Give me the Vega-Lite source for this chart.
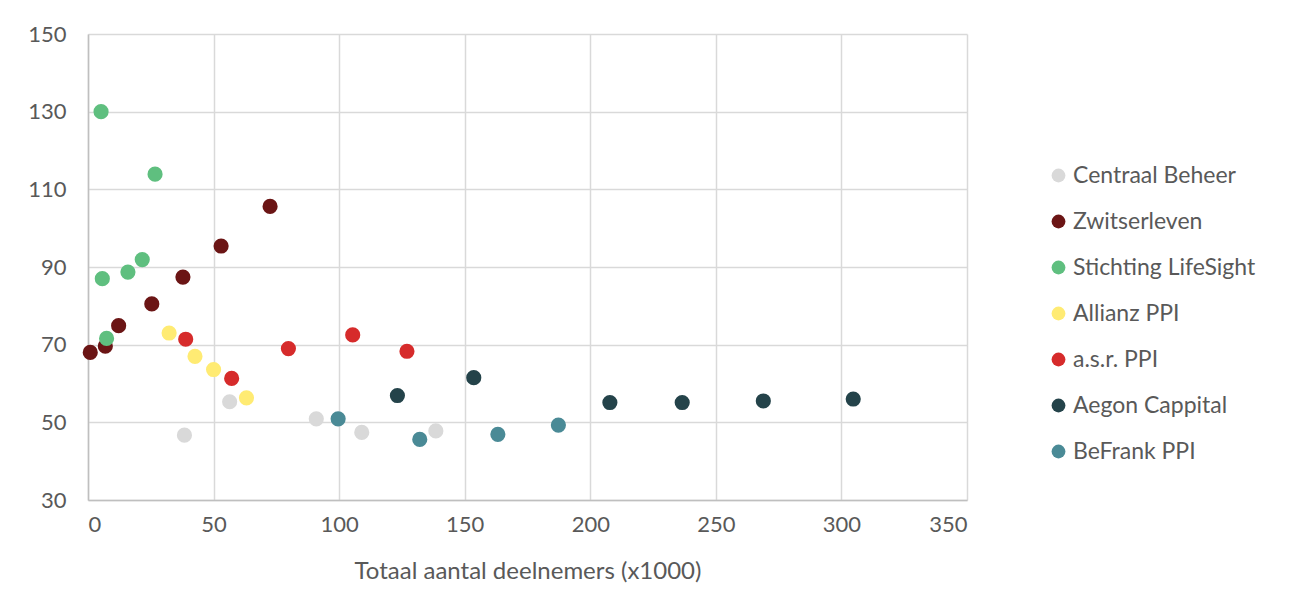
{
  "$schema": "https://vega.github.io/schema/vega-lite/v6.json",
  "width": 879,
  "height": 466,
  "autosize": {"type": "none"},
  "padding": {"left": 88, "top": 34, "right": 324, "bottom": 114},
  "background": "white",
  "config": {
    "font": "Lato",
    "view": {"stroke": null},
    "axis": {
      "labelFont": "Lato",
      "titleFont": "Lato",
      "labelColor": "#595959",
      "titleColor": "#595959",
      "labelFontSize": 22,
      "titleFontSize": 24,
      "titleFontWeight": "normal",
      "gridColor": "#D9D9D9",
      "gridWidth": 1.5,
      "domainColor": "#BFBFBF",
      "domainWidth": 1.5,
      "ticks": false
    },
    "legend": {
      "labelFont": "Lato",
      "labelColor": "#595959",
      "labelFontSize": 23,
      "labelLimit": 400
    }
  },
  "data": {
    "values": [
      {"series": "Centraal Beheer", "x": 38.4, "y": 46.7},
      {"series": "Centraal Beheer", "x": 56.4, "y": 55.3},
      {"series": "Centraal Beheer", "x": 90.9, "y": 50.9},
      {"series": "Centraal Beheer", "x": 109.0, "y": 47.4},
      {"series": "Centraal Beheer", "x": 138.5, "y": 47.8},
      {"series": "Zwitserleven", "x": 0.9, "y": 68.0},
      {"series": "Zwitserleven", "x": 6.9, "y": 69.6},
      {"series": "Zwitserleven", "x": 12.2, "y": 74.9},
      {"series": "Zwitserleven", "x": 25.4, "y": 80.5},
      {"series": "Zwitserleven", "x": 37.8, "y": 87.4},
      {"series": "Zwitserleven", "x": 53.0, "y": 95.4},
      {"series": "Zwitserleven", "x": 72.5, "y": 105.6},
      {"series": "Stichting LifeSight", "x": 5.2, "y": 130.0},
      {"series": "Stichting LifeSight", "x": 26.7, "y": 113.9},
      {"series": "Stichting LifeSight", "x": 21.6, "y": 91.9},
      {"series": "Stichting LifeSight", "x": 15.9, "y": 88.7},
      {"series": "Stichting LifeSight", "x": 5.7, "y": 87.0},
      {"series": "Stichting LifeSight", "x": 7.4, "y": 71.6},
      {"series": "Allianz PPI", "x": 32.3, "y": 73.0},
      {"series": "Allianz PPI", "x": 42.6, "y": 67.0},
      {"series": "Allianz PPI", "x": 50.0, "y": 63.6},
      {"series": "Allianz PPI", "x": 63.1, "y": 56.3},
      {"series": "a.s.r. PPI", "x": 38.9, "y": 71.4},
      {"series": "a.s.r. PPI", "x": 57.2, "y": 61.3},
      {"series": "a.s.r. PPI", "x": 79.8, "y": 69.0},
      {"series": "a.s.r. PPI", "x": 105.4, "y": 72.5},
      {"series": "a.s.r. PPI", "x": 127.0, "y": 68.3},
      {"series": "Aegon Cappital", "x": 123.2, "y": 56.9},
      {"series": "Aegon Cappital", "x": 153.6, "y": 61.5},
      {"series": "Aegon Cappital", "x": 207.8, "y": 55.1},
      {"series": "Aegon Cappital", "x": 236.6, "y": 55.1},
      {"series": "Aegon Cappital", "x": 268.9, "y": 55.5},
      {"series": "Aegon Cappital", "x": 304.7, "y": 56.0},
      {"series": "BeFrank PPI", "x": 99.6, "y": 50.9},
      {"series": "BeFrank PPI", "x": 132.1, "y": 45.6},
      {"series": "BeFrank PPI", "x": 163.2, "y": 46.9},
      {"series": "BeFrank PPI", "x": 187.3, "y": 49.3}
    ]
  },
  "mark": {"type": "circle", "size": 230, "opacity": 1},
  "encoding": {
    "x": {
      "field": "x",
      "type": "quantitative",
      "scale": {"domain": [0, 350], "nice": false, "zero": false},
      "axis": {"values": [0, 50, 100, 150, 200, 250, 300, 350], "title": "Totaal aantal deelnemers (x1000)", "labelPadding": 14, "titlePadding": 24}
    },
    "y": {
      "field": "y",
      "type": "quantitative",
      "scale": {"domain": [30, 150], "nice": false, "zero": false},
      "axis": {"values": [30, 50, 70, 90, 110, 130, 150], "title": null, "labelPadding": 22}
    },
    "color": {
      "field": "series",
      "type": "nominal",
      "scale": {
        "domain": ["Centraal Beheer", "Zwitserleven", "Stichting LifeSight", "Allianz PPI", "a.s.r. PPI", "Aegon Cappital", "BeFrank PPI"],
        "range": ["#D9D9D9", "#6B1515", "#5FBF7F", "#FFEB73", "#D62B2B", "#24434A", "#4A8A96"]
      },
      "legend": {
        "title": null,
        "orient": "none",
        "legendX": 959,
        "legendY": 130,
        "symbolType": "circle",
        "symbolSize": 190,
        "symbolOpacity": 1,
        "rowPadding": 22,
        "labelOffset": 3
      }
    }
  }
}
